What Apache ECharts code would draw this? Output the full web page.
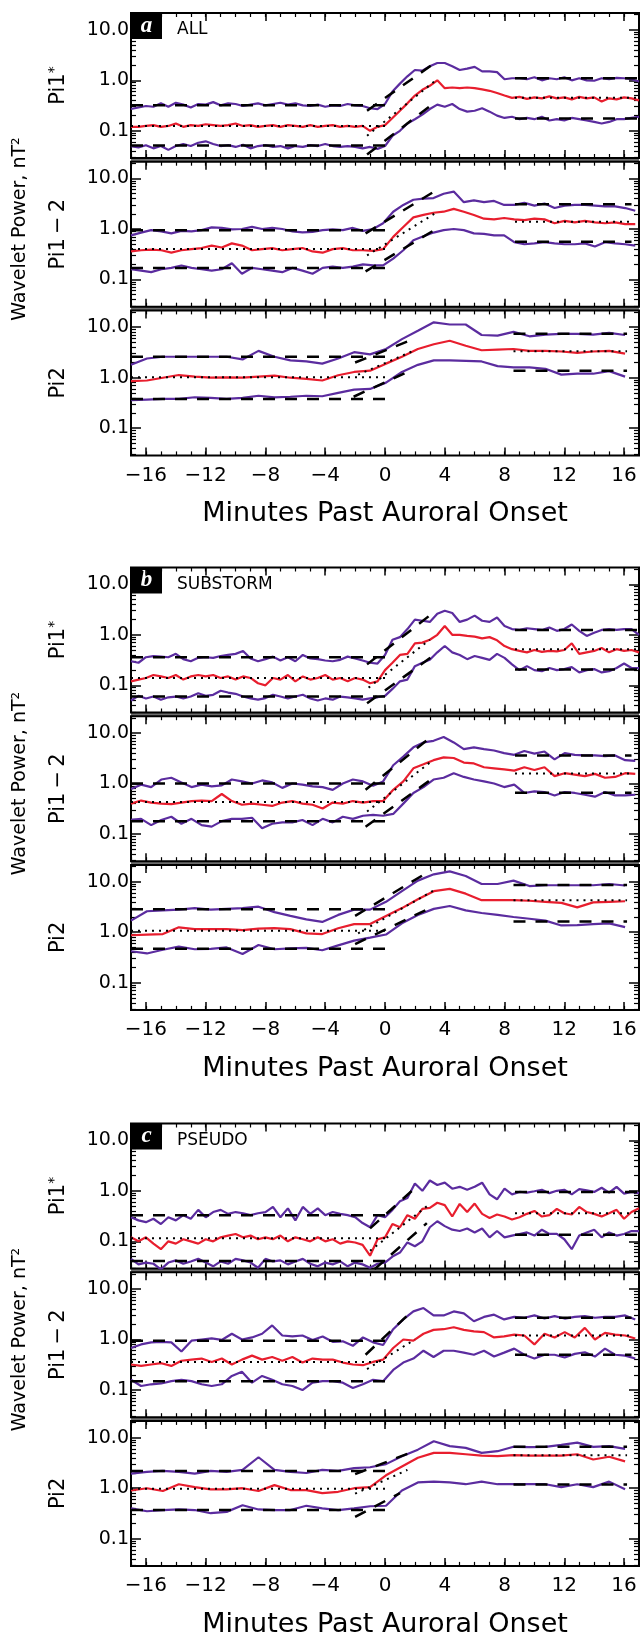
<!DOCTYPE html>
<html><head><meta charset="utf-8">
<script src="https://cdn.jsdelivr.net/npm/echarts@6/dist/echarts.min.js"></script>
<style>html,body{margin:0;padding:0;background:#fff}#c{width:640px;height:1637px}</style>
</head><body><div id="c"></div>
<script>
// ---------- sampling grids (minutes past auroral onset) ----------
function seq(s, d, n) { const a = []; for (let i = 0; i < n; i++) a.push(+(s + i * d).toFixed(3)); return a; }
const minutesPi1s = seq(-17, 0.5, 69);
const minutesPi12 = seq(-17, 0.675, 51);
const minutesPi2  = seq(-17, 1.0667, 32);

// ---------- tick values ----------
const xMajorTicks = [-16, -12, -8, -4, 0, 4, 8, 12, 16];
const yMajorTicks = [0.1, 1, 10];
const yMinorTicks = [0.03,0.04,0.05,0.06,0.07,0.08,0.09,0.2,0.3,0.4,0.5,0.6,0.7,0.8,0.9,2,3,4,5,6,7,8,9,20];
const groupNames = ['ALL', 'SUBSTORM', 'PSEUDO'];
const groupLetters = ['a', 'b', 'c'];

// ---------- (a) ALL ----------
const aPi1sUpper = [.27,.29,.31,.30,.35,.30,.36,.33,.29,.34,.33,.37,.32,.35,.34,.31,.33,.35,.32,.34,.36,.33,.35,.32,.31,.33,.30,.32,.31,.34,.32,.31,.28,.27,
  .34,.6,.86,1.2,1.6,1.55,1.9,2.2,2.2,1.9,1.6,1.7,1.85,1.5,1.5,1.45,1.05,1.1,1.1,1.05,1.15,1.0,1.1,1.05,1.15,1.0,1.1,1.0,.98,1.1,1.05,1.12,1.1,1.05,.95];
const aPi1sMedian = [.12,.12,.125,.13,.12,.125,.14,.12,.13,.125,.135,.13,.125,.13,.14,.125,.13,.12,.125,.13,.12,.13,.125,.12,.13,.12,.125,.13,.12,.125,.12,.125,.10,.12,
  .13,.18,.25,.35,.5,.65,.78,1.0,.7,.72,.70,.72,.70,.66,.62,.56,.5,.45,.47,.43,.46,.44,.48,.44,.46,.42,.47,.44,.46,.38,.44,.42,.46,.44,.40];
const aPi1sLower = [.05,.047,.052,.045,.05,.042,.05,.055,.05,.058,.062,.055,.05,.052,.048,.053,.045,.05,.052,.048,.05,.045,.05,.048,.052,.05,.055,.05,.048,.05,.048,.045,.048,.044,
  .05,.08,.10,.14,.17,.21,.27,.33,.30,.34,.27,.24,.25,.28,.24,.2,.18,.19,.17,.18,.17,.19,.16,.17,.16,.18,.17,.16,.15,.14,.15,.17,.17,.18,.19];
const aPi12Upper = [.75,.85,.95,.9,.82,.92,.90,.95,1.08,1.05,.98,1.0,1.1,1.0,1.05,1.0,.90,.86,.88,.95,.98,.95,1.05,.92,1.0,
  1.3,2.2,3.0,3.8,4.0,4.1,5.0,5.5,3.4,3.7,3.4,3.6,3.0,3.0,3.3,2.9,3.2,2.6,2.9,3.0,3.0,2.9,2.8,2.8,2.6,2.3];
const aPi12Median = [.36,.38,.39,.38,.34,.38,.40,.42,.47,.43,.52,.47,.38,.40,.42,.38,.40,.42,.36,.34,.40,.42,.38,.38,.37,
  .40,.7,1.1,1.7,1.9,2.1,2.2,2.5,2.2,1.9,1.6,1.55,1.65,1.55,1.5,1.6,1.55,1.3,1.45,1.35,1.45,1.35,1.3,1.35,1.25,1.25];
const aPi12Lower = [.16,.15,.14,.16,.17,.19,.17,.16,.15,.16,.21,.13,.17,.16,.15,.14,.17,.15,.13,.17,.18,.17,.18,.20,.19,
  .19,.26,.38,.6,.72,.85,.95,1.0,.95,.82,.80,.75,.75,.55,.5,.52,.55,.52,.5,.5,.52,.45,.55,.52,.5,.47];
const aPi2Upper = [1.8,2.4,2.6,2.6,2.6,2.6,2.6,2.3,3.4,2.6,2.2,2.1,1.9,2.4,3.2,2.9,
  3.7,5.8,8.5,12.5,11.3,11.3,7.0,6.8,8.1,6.6,7.1,7.4,7.4,7.1,7.7,7.0];
const aPi2Median = [.86,.88,1.0,1.13,1.05,1.0,1.02,1.0,1.05,1.1,1.0,.95,.88,1.12,1.3,1.38,
  1.9,2.6,3.7,4.6,5.4,4.3,3.5,3.6,3.7,3.4,3.4,3.3,3.1,3.3,3.4,3.0];
const aPi2Lower = [.36,.37,.38,.38,.41,.40,.38,.40,.44,.41,.42,.44,.43,.50,.58,.60,
  .8,1.3,1.8,2.2,2.2,2.15,2.1,1.7,1.6,1.6,1.5,1.15,1.2,1.2,1.35,1.05];

// ---------- (b) SUBSTORM ----------
const bPi1sUpper = [.30,.28,.36,.38,.37,.36,.42,.33,.30,.35,.36,.35,.38,.40,.42,.48,.34,.30,.33,.37,.31,.36,.30,.40,.34,.33,.31,.30,.32,.37,.34,.31,.28,.27,
  .4,.8,.9,1.3,2.0,1.9,1.8,2.6,3.0,2.7,1.8,2.0,2.4,1.9,1.8,2.2,1.5,1.3,1.25,1.35,1.3,1.25,1.4,1.2,1.3,1.6,1.2,.95,1.1,1.25,1.3,1.25,1.3,1.3,1.0];
const bPi1sMedian = [.12,.13,.14,.16,.15,.14,.16,.13,.15,.16,.15,.16,.14,.15,.13,.15,.14,.11,.10,.14,.13,.16,.12,.15,.13,.14,.16,.13,.14,.12,.14,.13,.11,.12,
  .2,.28,.4,.42,.68,.70,.8,1.0,1.5,1.0,1.0,.95,.92,.85,.90,.78,.6,.52,.48,.45,.5,.46,.48,.47,.5,.68,.42,.45,.48,.55,.45,.52,.48,.5,.45];
const bPi1sLower = [.05,.062,.055,.06,.052,.058,.06,.055,.06,.07,.062,.065,.078,.072,.068,.06,.055,.052,.056,.065,.06,.055,.06,.065,.055,.05,.055,.052,.06,.058,.055,.052,.055,.058,
  .062,.085,.12,.13,.24,.28,.32,.45,.6,.45,.4,.33,.38,.35,.32,.42,.35,.26,.2,.24,.2,.19,.22,.2,.21,.23,.18,.2,.21,.18,.19,.22,.27,.22,.22];
const bPi12Upper = [.78,.95,.85,1.2,1.3,1.05,.85,.95,.88,.92,1.2,1.1,1.0,1.15,1.05,.82,1.0,.95,.88,.85,.75,1.0,1.2,1.1,.9,
  1.1,2.3,3.4,5.2,6.5,7.0,8.3,6.5,4.8,5.2,4.8,4.5,4.0,3.7,4.4,3.9,4.3,3.0,4.0,3.7,3.6,3.6,3.5,3.6,2.9,2.8];
const bPi12Median = [.40,.46,.42,.40,.39,.42,.45,.46,.45,.62,.45,.38,.40,.38,.36,.42,.45,.40,.38,.32,.42,.40,.45,.42,.45,
  .45,.75,1.1,2.0,2.4,2.9,3.3,3.2,2.6,2.5,2.1,2.0,1.9,1.8,2.1,1.85,2.1,1.4,1.6,1.5,1.4,1.55,1.3,1.35,1.6,1.55];
const bPi12Lower = [.19,.20,.15,.19,.22,.16,.20,.15,.14,.18,.20,.20,.21,.13,.16,.17,.17,.19,.15,.20,.17,.22,.20,.23,.24,
  .23,.25,.4,.65,.85,1.2,1.3,1.6,1.35,1.2,1.1,1.0,.85,.95,.65,.7,.68,.58,.68,.65,.6,.55,.68,.58,.58,.6];
const bPi2Upper = [1.7,2.6,2.7,2.8,3.0,2.8,2.9,3.0,3.2,2.5,2.1,1.8,1.6,2.2,2.8,2.8,
  4.0,6.5,10.5,14,16,13,9.0,9.0,10.5,8.2,8.5,8.5,8.5,8.5,9.0,8.4];
const bPi2Median = [.87,.9,.92,1.25,1.15,1.15,1.15,1.1,1.18,1.2,1.15,.95,.92,1.2,1.45,1.45,
  2.1,3.0,4.5,6.5,7.2,5.8,4.3,4.3,4.3,4.2,4.0,3.8,3.1,3.9,4.0,4.1];
const bPi2Lower = [.42,.38,.45,.52,.46,.47,.5,.37,.56,.46,.48,.49,.44,.55,.68,.78,
  .9,1.5,2.2,2.9,3.3,2.7,2.4,2.2,2.0,1.85,1.7,1.36,1.38,1.45,1.5,1.26];

// ---------- (c) PSEUDO ----------
const cPi1sUpper = [.30,.26,.24,.28,.22,.30,.26,.33,.28,.42,.30,.38,.42,.35,.38,.36,.33,.36,.38,.48,.30,.45,.26,.48,.35,.45,.33,.38,.35,.33,.30,.23,.19,.33,
  .30,.42,.62,.72,1.4,1.0,1.6,1.3,1.45,1.1,1.2,1.05,1.2,1.45,.85,.68,1.1,.85,.95,.92,.98,1.05,.9,1.0,1.05,.85,1.08,1.02,.95,1.15,.92,1.2,.88,.95,.9];
const cPi1sMedian = [.12,.10,.12,.09,.07,.10,.09,.11,.10,.09,.11,.10,.12,.13,.14,.12,.13,.11,.12,.11,.13,.10,.12,.11,.10,.12,.10,.11,.09,.10,.095,.085,.052,.11,
  .12,.22,.19,.33,.28,.44,.46,.58,.52,.31,.55,.38,.56,.35,.29,.34,.31,.27,.3,.35,.4,.31,.33,.44,.36,.34,.48,.38,.35,.31,.36,.42,.28,.38,.45];
const cPi1sLower = [.045,.035,.038,.036,.028,.038,.042,.036,.04,.045,.038,.032,.04,.036,.045,.042,.038,.03,.045,.04,.042,.035,.04,.045,.036,.032,.038,.035,.04,.032,.038,.035,.03,.036,
  .038,.05,.06,.095,.08,.1,.19,.25,.2,.17,.16,.18,.15,.18,.12,.16,.12,.13,.14,.15,.13,.17,.14,.14,.11,.07,.13,.15,.17,.12,.15,.13,.14,.16,.16];
const cPi12Upper = [.68,.8,.88,.90,.88,.58,.95,1.0,1.05,.98,1.3,1.0,1.1,1.3,1.9,1.2,1.15,1.2,.98,1.15,.9,.92,.75,1.1,.88,
  .78,1.6,2.5,3.6,4.2,3.0,3.0,3.6,3.3,2.3,2.8,3.1,2.5,2.8,2.7,3.0,2.6,2.9,2.6,2.8,2.9,2.7,2.8,2.8,3.0,2.5];
const cPi12Median = [.32,.30,.32,.34,.30,.38,.40,.42,.36,.42,.32,.40,.48,.40,.45,.38,.45,.35,.42,.40,.40,.35,.32,.31,.36,
  .40,.68,1.0,.95,1.3,1.55,1.6,1.75,1.55,1.45,1.4,1.1,1.15,1.25,1.2,.8,1.3,1.1,1.4,1.1,1.7,1.0,1.35,1.25,1.2,1.05];
const cPi12Lower = [.16,.12,.13,.135,.15,.16,.15,.13,.12,.13,.19,.23,.14,.19,.16,.13,.12,.10,.14,.15,.15,.14,.11,.13,.16,
  .15,.25,.35,.42,.6,.45,.6,.6,.55,.5,.6,.46,.55,.66,.5,.42,.5,.5,.44,.52,.56,.46,.66,.5,.48,.42];
const cPi2Upper = [1.95,2.1,2.2,2.1,1.95,2.2,2.1,2.3,4.1,2.3,2.1,2.0,2.3,2.2,2.5,2.6,
  3.0,4.3,5.8,8.5,6.8,6.3,5.0,5.4,6.6,6.5,6.6,7.2,8.0,6.6,6.8,6.0];
const cPi2Median = [.9,1.0,.88,1.2,1.05,.95,.95,1.0,.88,1.15,.92,.92,.8,.85,1.0,1.05,
  1.8,2.7,4.0,5.0,5.0,4.7,4.4,4.3,4.5,4.4,4.4,4.4,4.7,3.7,4.2,3.4];
const cPi2Lower = [.40,.35,.37,.38,.37,.32,.34,.46,.38,.37,.37,.45,.4,.37,.4,.44,
  .45,.9,1.3,1.35,1.3,1.2,1.35,1.2,1.2,1.2,1.2,1.05,1.2,1.05,1.35,.95];

// ---------- fitted levels [upper, median, lower] and onset slopes [x0,y0,x1,y1] ----------
const preX = [-17, 0];
const postXPi1s = [8.7, 17], postXPi12 = [8.7, 16.5], postXPi2 = [8.6, 16.2];
const aPi1sPre = [0.32, 0.125, 0.051], aPi1sPost = [1.1, 0.45, 0.175];
const aPi1sSlope = [[-1.2, 0.25, 3.5, 2.4], [-1.2, 0.08, 3.3, 0.95], [-1.2, 0.034, 3.4, 0.38]];
const aPi12Pre = [0.95, 0.40, 0.17], aPi12Post = [3.1, 1.4, 0.56];
const aPi12Slope = [[-1.3, 0.82, 3.5, 6.0], [-1.2, 0.3, 3.3, 2.0], [-1.3, 0.145, 3.3, 0.95]];
const aPi2Pre = [2.6, 1.02, 0.38], aPi2Post = [7.4, 3.35, 1.38];
const aPi2Slope = [[-2.0, 2.0, 1.7, 5.5], [-1.8, 1.15, 2.0, 3.5], [-2.1, 0.42, 1.5, 1.3]];
const bPi1sPre = [0.36, 0.14, 0.06], bPi1sPost = [1.25, 0.52, 0.205];
const bPi1sSlope = [[-1.2, 0.26, 3.4, 3.0], [-1.1, 0.09, 3.0, 0.8], [-1.2, 0.044, 3.4, 0.42]];
const bPi12Pre = [1.0, 0.43, 0.18], bPi12Post = [3.6, 1.58, 0.66];
const bPi12Slope = [[-1.3, 0.75, 3.0, 8.0], [-1.2, 0.28, 3.0, 2.6], [-1.3, 0.14, 3.0, 1.15]];
const bPi2Pre = [2.85, 1.07, 0.47], bPi2Post = [8.6, 4.3, 1.63];
const bPi2Slope = [[-2.0, 2.1, 3.1, 17], [-1.8, 0.95, 3.3, 6.8], [-2.0, 0.58, 3.2, 3.2]];
const cPi1sPre = [0.33, 0.115, 0.041], cPi1sPost = [0.95, 0.36, 0.135];
const cPi1sSlope = [[-1.0, 0.18, 1.8, 1.0], [-1.0, 0.065, 3.0, 0.55], [-0.7, 0.028, 2.8, 0.23]];
const cPi12Pre = [0.95, 0.36, 0.15], cPi12Post = [2.7, 1.2, 0.5];
const cPi12Slope = [[-1.3, 0.5, 1.7, 3.4], [-1.2, 0.26, 2.0, 1.0], null];
const cPi2Pre = [2.2, 0.98, 0.37], cPi2Post = [6.6, 4.5, 1.18];
const cPi2Slope = [[-2.0, 1.9, 1.5, 4.8], [-2.0, 0.78, 1.5, 2.3], [-2.0, 0.27, 1.0, 0.8]];

// ---------- panel table built from the arrays ----------
const panels = [
  {t: minutesPi1s, v: [aPi1sUpper, aPi1sMedian, aPi1sLower], pre: aPi1sPre, post: aPi1sPost, postX: postXPi1s, slope: aPi1sSlope},
  {t: minutesPi12, v: [aPi12Upper, aPi12Median, aPi12Lower], pre: aPi12Pre, post: aPi12Post, postX: postXPi12, slope: aPi12Slope},
  {t: minutesPi2,  v: [aPi2Upper, aPi2Median, aPi2Lower],    pre: aPi2Pre,  post: aPi2Post,  postX: postXPi2,  slope: aPi2Slope},
  {t: minutesPi1s, v: [bPi1sUpper, bPi1sMedian, bPi1sLower], pre: bPi1sPre, post: bPi1sPost, postX: postXPi1s, slope: bPi1sSlope},
  {t: minutesPi12, v: [bPi12Upper, bPi12Median, bPi12Lower], pre: bPi12Pre, post: bPi12Post, postX: postXPi12, slope: bPi12Slope},
  {t: minutesPi2,  v: [bPi2Upper, bPi2Median, bPi2Lower],    pre: bPi2Pre,  post: bPi2Post,  postX: postXPi2,  slope: bPi2Slope},
  {t: minutesPi1s, v: [cPi1sUpper, cPi1sMedian, cPi1sLower], pre: cPi1sPre, post: cPi1sPost, postX: postXPi1s, slope: cPi1sSlope},
  {t: minutesPi12, v: [cPi12Upper, cPi12Median, cPi12Lower], pre: cPi12Pre, post: cPi12Post, postX: postXPi12, slope: cPi12Slope},
  {t: minutesPi2,  v: [cPi2Upper, cPi2Median, cPi2Lower],    pre: cPi2Pre,  post: cPi2Post,  postX: postXPi2,  slope: cPi2Slope}
];

// ---------- layout / style ----------
const FONT = '"DejaVu Sans", sans-serif';
const PURPLE = '#5b2c9f', RED = '#e81e2e';
const Y_MIN = 0.029, Y_MAX = 21.5;
const gridLeft = 131, gridW = 508, panelH = 145, rowPitch = 148.7;
const groupTop = [13, 567.5, 1123.5];

const grids = [], xAxes = [], yAxes = [], series = [], graphics = [];
const tickStyle = {color: '#000', width: 1.5};

panels.forEach((p, i) => {
  const g = Math.floor(i / 3), r = i % 3;
  const top = groupTop[g] + r * rowPitch;
  grids.push({left: gridLeft, top: top, width: gridW, height: panelH, show: true, borderColor: '#000', borderWidth: 2,
    backgroundColor: 'transparent', containLabel: false, outerBoundsMode: 'none'});
  const xb = {type: 'value', gridIndex: i, min: -17, max: 17, axisLine: {show: false, onZero: false}, splitLine: {show: false}};
  xAxes.push(Object.assign({}, xb, {position: 'bottom',
    axisTick: {show: true, inside: true, length: 8, lineStyle: tickStyle, customValues: xMajorTicks},
    axisLabel: {show: r === 2, customValues: xMajorTicks, color: '#000', fontFamily: FONT, fontSize: 20, margin: 10,
      formatter: v => (v < 0 ? '\u2212' + (-v) : String(v))}}));
  xAxes.push(Object.assign({}, xb, {position: 'bottom', interval: 1,
    axisTick: {show: true, inside: true, length: 4, lineStyle: {color: '#000', width: 1.2}}, axisLabel: {show: false}}));
  xAxes.push(Object.assign({}, xb, {position: 'top',
    axisTick: {show: true, inside: true, length: 8, lineStyle: tickStyle, customValues: xMajorTicks}, axisLabel: {show: false}}));
  xAxes.push(Object.assign({}, xb, {position: 'top', interval: 1,
    axisTick: {show: true, inside: true, length: 4, lineStyle: {color: '#000', width: 1.2}}, axisLabel: {show: false}}));
  const yb = {type: 'log', logBase: 10, gridIndex: i, min: Y_MIN, max: Y_MAX, axisLine: {show: false, onZero: false}, splitLine: {show: false}};
  yAxes.push(Object.assign({}, yb, {position: 'left',
    axisTick: {show: true, inside: true, length: 10, lineStyle: tickStyle, customValues: yMajorTicks},
    axisLabel: {show: true, customValues: yMajorTicks, color: '#000', fontFamily: FONT, fontSize: 19, margin: 2,
      formatter: v => Number(v).toFixed(1)}}));
  yAxes.push(Object.assign({}, yb, {position: 'left',
    axisTick: {show: true, inside: true, length: 5, lineStyle: {color: '#000', width: 1.2}, customValues: yMinorTicks}, axisLabel: {show: false}}));
  yAxes.push(Object.assign({}, yb, {position: 'right',
    axisTick: {show: true, inside: true, length: 10, lineStyle: tickStyle, customValues: yMajorTicks}, axisLabel: {show: false}}));
  yAxes.push(Object.assign({}, yb, {position: 'right',
    axisTick: {show: true, inside: true, length: 5, lineStyle: {color: '#000', width: 1.2}, customValues: yMinorTicks}, axisLabel: {show: false}}));

  const xi = i * 4, yi = i * 4;
  const line = (data, color, width, type, z) => ({type: 'line', xAxisIndex: xi, yAxisIndex: yi, data: data,
    showSymbol: false, symbol: 'none', silent: true, animation: false, z: z, clip: true,
    lineStyle: {color: color, width: width, type: type, cap: 'butt'}});
  // observed percentile lines
  [PURPLE, RED, PURPLE].forEach((col, k) => {
    series.push(line(p.t.map((t, j) => [t, p.v[k][j]]), col, 2.2, 'solid', 3));
  });
  // fitted levels and onset slopes
  for (let k = 0; k < 3; k++) {
    const st = k === 1 ? [2, 5] : [12, 10];
    const w = k === 1 ? 2 : 2.5;
    series.push(line([[preX[0], p.pre[k]], [preX[1], p.pre[k]]], '#000', w, st, 4));
    series.push(line([[p.postX[0], p.post[k]], [p.postX[1], p.post[k]]], '#000', w, st, 4));
    if (p.slope[k]) {
      const s = p.slope[k];
      series.push(line([[s[0], s[1]], [s[2], s[3]]], '#000', w, st, 4));
    }
  }
  // panel band label
  const bandRich = {m: {fontSize: 21, fontFamily: FONT, fill: '#000'}, s: {fontSize: 14, fontFamily: FONT, fill: '#000', verticalAlign: 'top', padding: [0, 0, 10, 0]}};
  const bandText = ['{m|Pi1}{s|*}', 'Pi1\u2009\u2212\u20092', 'Pi2'][r];
  graphics.push({type: 'text', x: 59, y: top + panelH / 2, rotation: Math.PI / 2, silent: true,
    style: {text: bandText, rich: bandRich, font: '21px ' + FONT, fontSize: 21, fontFamily: FONT,
      fill: '#000', align: 'center', verticalAlign: 'middle', textAlign: 'center', textVerticalAlign: 'middle'}});
  if (r < 2) {
    graphics.push({type: 'rect', silent: true, z: -1, shape: {x: gridLeft, y: top + panelH, width: gridW, height: rowPitch - panelH},
      style: {fill: '#6e6e6e'}});
  }
});

groupTop.forEach((T, g) => {
  graphics.push({type: 'rect', silent: true, shape: {x: gridLeft, y: T, width: 31, height: 26}, style: {fill: '#000'}});
  graphics.push({type: 'text', silent: true, x: gridLeft + 15.5, y: T + 13,
    style: {text: groupLetters[g], font: 'italic bold 23px "Liberation Serif", serif', fill: '#fff',
      align: 'center', verticalAlign: 'middle', textAlign: 'center', textVerticalAlign: 'middle'}});
  graphics.push({type: 'text', silent: true, x: 177, y: T + 17,
    style: {text: groupNames[g], font: '17px ' + FONT, fill: '#000', align: 'left', verticalAlign: 'middle', textAlign: 'left', textVerticalAlign: 'middle'}});
  graphics.push({type: 'text', silent: true, x: 20, y: T + 216, rotation: Math.PI / 2,
    style: {text: 'Wavelet Power, nT\u00B2', font: '19px ' + FONT, fill: '#000', align: 'center', verticalAlign: 'middle', textAlign: 'center', textVerticalAlign: 'middle'}});
  graphics.push({type: 'text', silent: true, x: gridLeft + gridW / 2, y: T + 501,
    style: {text: 'Minutes Past Auroral Onset', font: '27px ' + FONT, fill: '#000', align: 'center', verticalAlign: 'middle', textAlign: 'center', textVerticalAlign: 'middle'}});
});

const chart = echarts.init(document.getElementById('c'), null, {renderer: 'canvas', width: 640, height: 1637});
chart.setOption({
  animation: false,
  backgroundColor: '#fff',
  grid: grids,
  xAxis: xAxes,
  yAxis: yAxes,
  series: series,
  graphic: graphics
});
</script>
</body></html>
